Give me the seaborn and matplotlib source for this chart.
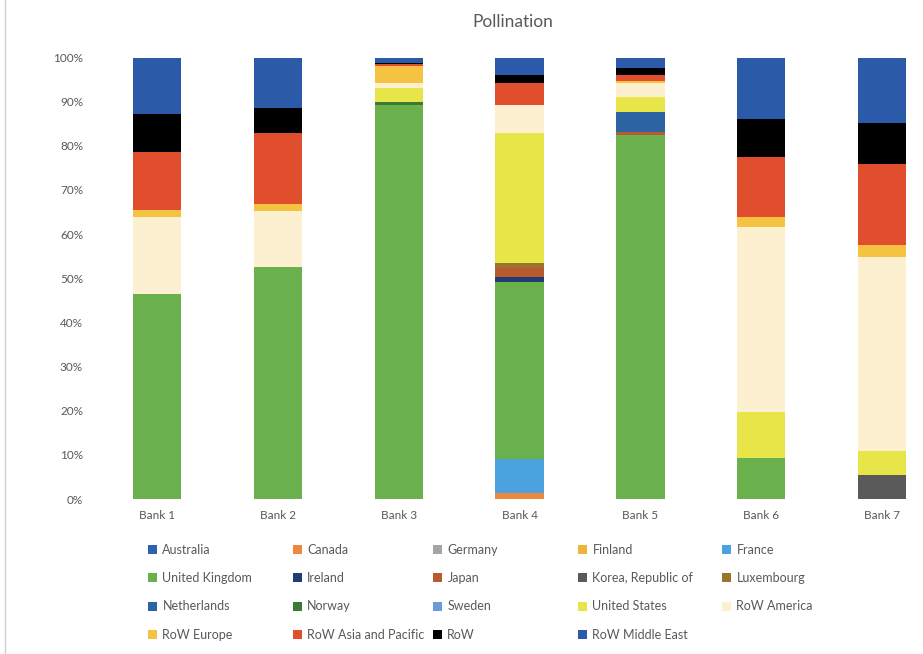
import numpy as np
import pandas as pd
import matplotlib.pyplot as plt
from matplotlib.patches import Patch
import seaborn as sns

BANKS = ["Bank 1", "Bank 2", "Bank 3", "Bank 4", "Bank 5", "Bank 6", "Bank 7"]

# share (%) per bank, stacked bottom -> top in this order
australia = [0, 0, 0, 0, 0, 0, 0]
canada = [0, 0, 0, 1.3, 0, 0, 0]
germany = [0, 0, 0, 0, 0, 0, 0]
finland = [0, 0, 0, 0, 0, 0, 0]
france = [0, 0, 0, 7.7, 0, 0, 0]
united_kingdom = [46.4, 52.6, 89.2, 40.2, 82.4, 9.4, 0]
ireland = [0, 0, 0, 1.1, 0, 0, 0]
japan = [0, 0, 0, 2.0, 0.8, 0, 0]
korea = [0, 0, 0, 0, 0, 0, 5.4]
luxembourg = [0, 0, 0, 1.1, 0, 0, 0]
netherlands = [0, 0, 0, 0, 4.5, 0, 0]
norway = [0, 0, 0.8, 0, 0, 0, 0]
sweden = [0, 0, 0, 0, 0, 0, 0]
united_states = [0, 0, 3.0, 29.4, 3.4, 10.4, 5.5]
row_america = [17.4, 12.7, 1.2, 6.4, 3.1, 41.9, 44.0]
row_europe = [1.7, 1.5, 3.9, 0, 0.4, 2.1, 2.6]
row_asia = [13.0, 16.0, 0.4, 5.0, 1.5, 13.6, 18.5]
row_other = [8.7, 5.7, 0.3, 1.8, 1.6, 8.7, 9.1]
row_middle_east = [12.8, 11.5, 1.2, 4.0, 2.3, 13.9, 14.9]

SERIES = [
    ("Australia", australia, "#2E62B0"),
    ("Canada", canada, "#EE8840"),
    ("Germany", germany, "#A5A5A5"),
    ("Finland", finland, "#F0B43C"),
    ("France", france, "#4AA3DF"),
    ("United Kingdom", united_kingdom, "#6AB04C"),
    ("Ireland", ireland, "#203E74"),
    ("Japan", japan, "#B85A30"),
    ("Korea, Republic of", korea, "#5A5A5A"),
    ("Luxembourg", luxembourg, "#9A7428"),
    ("Netherlands", netherlands, "#2B64A0"),
    ("Norway", norway, "#3A7A35"),
    ("Sweden", sweden, "#6A9AD8"),
    ("United States", united_states, "#E8E548"),
    ("RoW America", row_america, "#FDF0D0"),
    ("RoW Europe", row_europe, "#F5C242"),
    ("RoW Asia and Pacific", row_asia, "#E04E2E"),
    ("RoW", row_other, "#000000"),
    ("RoW Middle East", row_middle_east, "#2A5AA8"),
]

sns.set_theme(style="white")
plt.rcParams["font.family"] = ["Lato", "DejaVu Sans"]
GREY = "#595959"

fig = plt.figure(figsize=(9.23, 6.54), dpi=100)
ax = fig.add_axes([0.105, 0.237, 0.895, 0.675])

bottom = np.zeros(len(BANKS))
for name, vals, color in SERIES:
    vals = np.array(vals, dtype=float)
    df = pd.DataFrame({"bank": BANKS, "share": vals})
    sns.barplot(data=df, x="bank", y="share", color=color, width=0.4,
                saturation=1, bottom=bottom, errorbar=None, linewidth=0, ax=ax)
    bottom = bottom + vals

ax.set_ylim(0, 100)
ax.set_xlim(-0.5, 6.34)
ax.set_yticks(np.arange(0, 101, 10))
ax.set_yticklabels([f"{v}%" for v in range(0, 101, 10)])
ax.set_xlabel("")
ax.set_ylabel("")
ax.tick_params(axis="y", labelsize=8.5, colors=GREY, length=3, color="#D9D9D9", pad=7)
ax.tick_params(axis="x", labelsize=8.5, colors=GREY, length=0, pad=8)
for s in ax.spines.values():
    s.set_visible(False)

fig.suptitle("Pollination", x=0.556, y=0.978, fontsize=12.5, color=GREY)

# legend laid out like the original: five equal columns, filled row by row
handles = [Patch(facecolor=c, edgecolor="none", label=n) for n, _, c in SERIES]
ncol = 5
col_x = [148, 293, 433, 578, 722]
for c in range(ncol):
    col = handles[c::ncol]
    leg = fig.legend(col, [h.get_label() for h in col],
                     loc="upper left", bbox_to_anchor=(col_x[c] / 923, 1 - 544 / 654),
                     frameon=False, fontsize=9, labelcolor=GREY,
                     handlelength=0.75, handleheight=0.75, handletextpad=0.4,
                     labelspacing=1.3, borderpad=0, borderaxespad=0)

fig.add_artist(plt.Line2D([0.005, 0.005], [0, 1], color="#D0D0D0", linewidth=1))

fig.savefig("out.png", dpi=100, facecolor="white")
